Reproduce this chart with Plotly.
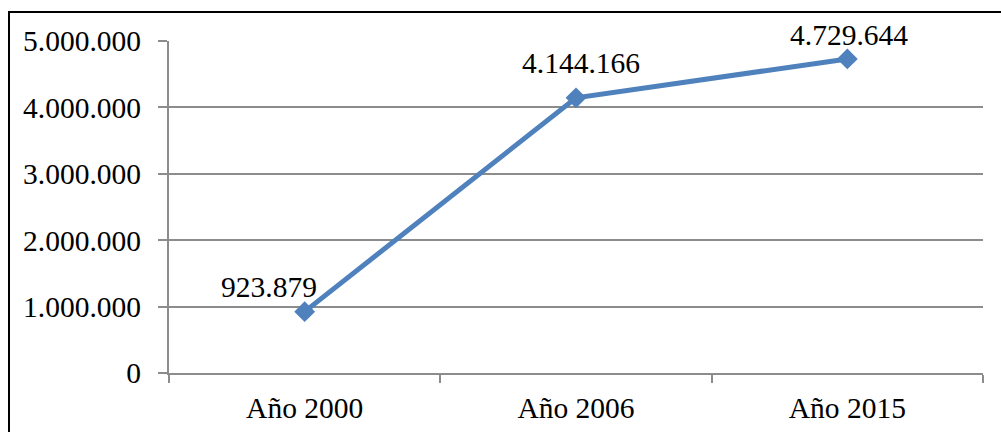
import plotly.graph_objects as go

# Data
categories = ["Año 2000", "Año 2006", "Año 2015"]
values = [923879, 4144166, 4729644]
y_ticks = [0, 1000000, 2000000, 3000000, 4000000, 5000000]

# Label offsets (pixels) for the value annotations
label_dx = [-36, 5, 2]
label_dy = [25, 35, 24]

W, H = 1001, 432
L, R, T, B = 169, 18, 41, 59
plot_w = W - L - R
plot_h = H - T - B

LINE_BLUE = "#4F81BD"
GRID = "#8C8C8C"
FONT = "Liberation Serif"
FS = 29.5


def fmt(v):
    return f"{v:,}".replace(",", ".")


fig = go.Figure()
fig.add_trace(go.Scatter(
    x=categories, y=values, mode="lines+markers",
    line=dict(color=LINE_BLUE, width=5),
    marker=dict(symbol="diamond", size=16, color=LINE_BLUE),
    hoverinfo="skip", showlegend=False,
))

for c, v, dx, dy in zip(categories, values, label_dx, label_dy):
    fig.add_annotation(x=c, y=v, text=fmt(v), showarrow=False,
                       xshift=dx, yshift=dy,
                       font=dict(family=FONT, size=FS, color="black"))

# Outer frame (left and top edges)
def px_x(x):
    return (x - L) / plot_w

def px_y(y):
    return 1 - (y - T) / plot_h

fig.add_shape(type="line", xref="paper", yref="paper",
              x0=px_x(9), x1=px_x(9), y0=px_y(12), y1=px_y(H + 10),
              line=dict(color="black", width=2))
fig.add_shape(type="line", xref="paper", yref="paper",
              x0=px_x(8), x1=px_x(W + 10), y0=px_y(12), y1=px_y(12),
              line=dict(color="black", width=2))

fig.update_layout(
    width=W, height=H,
    margin=dict(l=L, r=R, t=T, b=B),
    paper_bgcolor="white", plot_bgcolor="white",
    separators=",.",
    font=dict(family=FONT, size=FS, color="black"),
)
fig.update_xaxes(
    type="category", range=[-0.5, 2.5], tickson="boundaries",
    automargin=False,
    showgrid=False, showline=True, linecolor=GRID, linewidth=2,
    ticks="outside", ticklen=8, tickcolor=GRID, tickwidth=2,
    ticklabelstandoff=8,
    tickfont=dict(family=FONT, size=FS, color="black"),
)
fig.update_yaxes(
    range=[0, 5000000], tickvals=y_ticks, ticktext=[fmt(t) for t in y_ticks],
    automargin=False,
    showgrid=True, gridcolor=GRID, gridwidth=2,
    showline=True, linecolor=GRID, linewidth=2,
    ticks="outside", ticklen=9, tickcolor=GRID, tickwidth=2,
    ticklabelstandoff=11, zeroline=False,
    tickfont=dict(family=FONT, size=FS, color="black"),
)

fig.write_html("out.html")
